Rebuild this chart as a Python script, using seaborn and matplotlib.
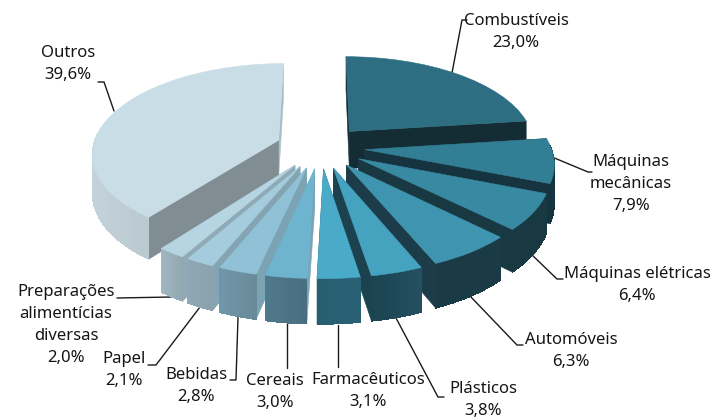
import numpy as np
import matplotlib
matplotlib.use('Agg')
import matplotlib.pyplot as plt
import matplotlib.transforms as mtransforms
from matplotlib.colors import to_rgb
import seaborn as sns

# data
labels = ['Combustíveis\n23,0%', 'Máquinas\nmecânicas\n7,9%', 'Máquinas elétricas\n6,4%',
          'Automóveis\n6,3%', 'Plásticos\n3,8%', 'Farmacêuticos\n3,1%', 'Cereais\n3,0%',
          'Bebidas\n2,8%', 'Papel\n2,1%', 'Preparações\nalimentícias\ndiversas\n2,0%',
          'Outros\n39,6%']
shares = [23.0, 7.9, 6.4, 6.3, 3.8, 3.1, 3.0, 2.8, 2.1, 2.0, 39.6]

top_colors = ['#2E6E82', '#327E95', '#388AA3', '#3F95AF', '#45A3BF', '#4AABC8',
              '#6FB4CE', '#90C1D6', '#A4CCDD', '#B6D5E2', '#C9DDE6']
cut_colors = ['#142C34', '#16343F', '#183842', '#1B3C48', '#1C4250', '#24566A',
              '#79A5B8', '#7BA3B3', '#84A4B2', '#8FAAB6', '#808E94']
far_colors = ['#142C34', '#16343F', '#183842', '#1B3C48', '#1C4250', '#24566A',
              '#79A5B8', '#7BA3B3', '#84A4B2', '#8FAAB6', '#A9BEC7']
wall_left = ['#142C34', '#16343F', '#183842', '#1A3A45', '#1B4350', '#275E70',
             '#4E7A8C', '#6F97AB', '#8FA8B5', '#A0B6C0', '#C4D3DA']
wall_right = ['#142C34', '#16343F', '#183842', '#1A3A45', '#24505F', '#2A6073',
              '#4A6E80', '#6A8A98', '#8CA2AE', '#92A8B2', '#9FAEB4']

# label centres and leader lines, in pixels
label_pos = [(516, 32), (631, 184), (637, 285), (571, 351), (483, 400), (368, 391),
             (275, 392), (196, 386), (124, 370), (66, 325), (68, 64)]
LINE_STEP = 22
leaders = [
    [(452, 73), (462, 20), (467, 20)],
    [(552, 157), (588, 172), (592, 172)],
    [(530, 253), (557, 279), (563, 279)],
    [(470, 296), (517, 345), (523, 345)],
    [(396, 318), (438, 397), (444, 397)],
    [(338, 325), (338, 367)],
    [(287, 322), (287, 368)],
    [(238, 317), (236, 380), (230, 380)],
    [(200, 307), (156, 365), (148, 365)],
    [(172, 297), (117, 298)],
    [(114, 111), (104, 82), (98, 82)],
]

CX, CY = 320.5, 147
RX, RY = 186, 88.6
DEPTH = 38
PERSP = 0.1335
EXPLODE = 0.24


def project(x, y, z=0.0):
    s = 1 / (1 + PERSP * np.asarray(y))
    return CX + RX * np.asarray(x) * s, CY - RY * np.asarray(y) * s + DEPTH * z * s


class Tilt(mtransforms.Transform):
    input_dims = 2
    output_dims = 2

    def transform_non_affine(self, values):
        px, py = project(values[:, 0], values[:, 1])
        return np.column_stack([px, py])


sns.set_theme(style='white')
plt.rcParams['font.family'] = ['Noto Sans', 'DejaVu Sans']

fig = plt.figure(figsize=(7.13, 4.2), dpi=100)
ax = fig.add_axes([0, 0, 1, 1])

wedges, _ = ax.pie(shares, explode=[EXPLODE] * len(shares), colors=top_colors, startangle=90,
                   counterclock=False, radius=1,
                   wedgeprops={'linewidth': 0.4})
ax.set_aspect('auto')
ax.set_xlim(0, 713)
ax.set_ylim(420, 0)
ax.axis('off')

for i, w in enumerate(wedges):
    mid = np.radians((w.theta1 + w.theta2) / 2)
    z0 = 2 + 2 * (-np.sin(mid) + 1) * 10
    cx, cy = w.center
    w.set_transform(Tilt() + ax.transData)
    w.set_edgecolor(top_colors[i])
    w.set_zorder(z0 + 0.3)

    # radial cut faces, the one lower on screen goes last
    faces = []
    for ang in (w.theta1, w.theta2):
        a = np.radians(ang)
        ex, ey = cx + np.cos(a), cy + np.sin(a)
        px0, py0 = project(np.array([cx, ex]), np.array([cy, ey]))
        px1, py1 = project(np.array([ex, cx]), np.array([ey, cy]), 1.0)
        faces.append((np.r_[px0, px1], np.r_[py0, py1]))
    faces.sort(key=lambda f: f[1].mean())
    for k, (fx, fy) in enumerate(faces):
        col = far_colors[i] if k == 0 else cut_colors[i]
        ax.fill(fx, fy, color=col, lw=0.4, zorder=z0 + 0.01 * k)

    # outer wall as thin strips, only the part facing us
    angs = np.radians(np.linspace(w.theta1, w.theta2, 41))
    left, right = np.array(to_rgb(wall_left[i])), np.array(to_rgb(wall_right[i]))
    xs, ys = cx + np.cos(angs), cy + np.sin(angs)
    px_all = project(xs, ys)[0]
    for j in range(len(angs) - 1):
        if np.sin(angs[j]) > 0.03 and np.sin(angs[j + 1]) > 0.03:
            continue
        # each strip overlaps the next a little so no seams show
        k = min(j + 2, len(angs) - 1)
        qx = np.array([xs[j], xs[k]])
        qy = np.array([ys[j], ys[k]])
        tx, ty = project(qx, qy)
        bx, by = project(qx[::-1], qy[::-1], 1.0)
        t = (px_all[j] - px_all.min()) / max(px_all.max() - px_all.min(), 1)
        col = left + (right - left) * t
        ax.fill(np.r_[tx, bx], np.r_[ty, by], color=col, lw=0, antialiased=False, zorder=z0 + 0.1)

for pts in leaders:
    ax.plot([p[0] for p in pts], [p[1] for p in pts], color='#1a1a1a', lw=1, zorder=1,
            solid_joinstyle='miter')

# one text per line, so a long first line does not box in its neighbours
for text, (x, y) in zip(labels, label_pos):
    lines = text.split('\n')
    for n, line in enumerate(lines):
        ax.text(x, y + (n - (len(lines) - 1) / 2) * LINE_STEP, line, ha='center', va='center',
                fontsize=12, color='#151515', zorder=50)

plt.savefig('out.png', dpi=100)
